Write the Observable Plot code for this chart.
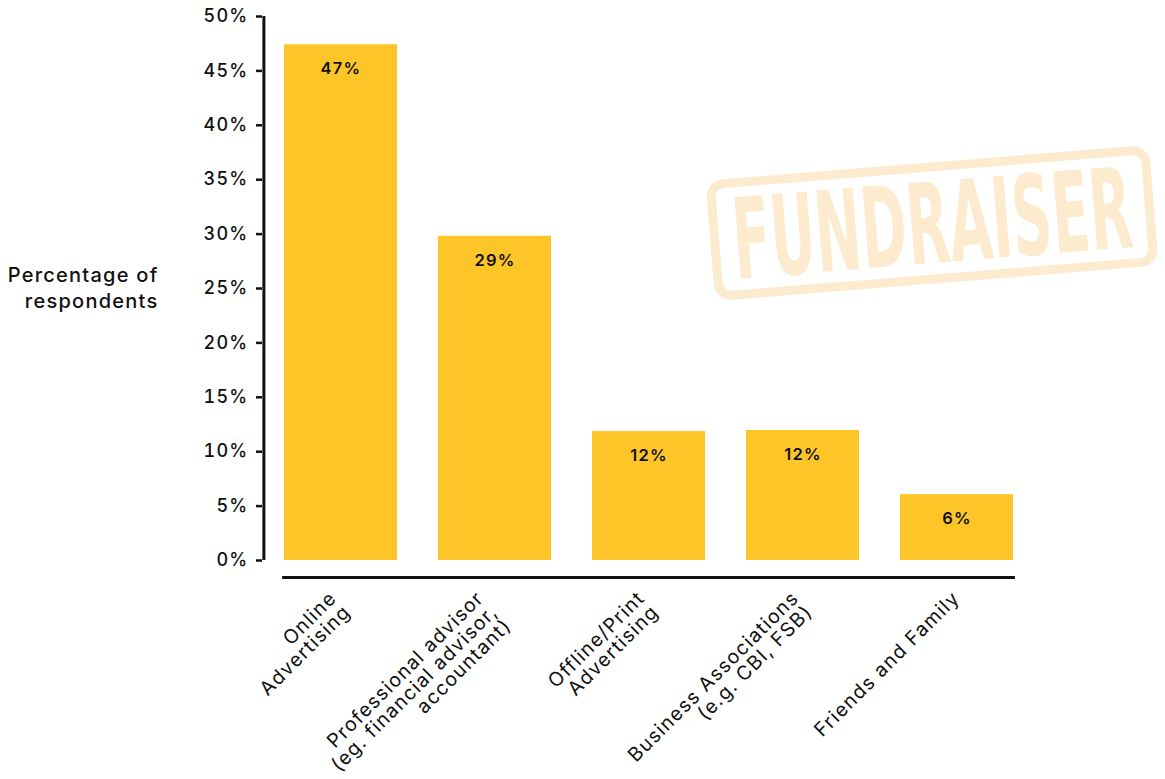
<!DOCTYPE html>
<html>
<head>
<meta charset="utf-8">
<script src="https://cdn.jsdelivr.net/npm/d3@7"></script>
<script src="https://cdn.jsdelivr.net/npm/@observablehq/plot@0.6"></script>
<style>
  html, body { margin: 0; padding: 0; background: #fff; }
  #wrap { position: relative; width: 1165px; height: 779px; overflow: hidden; }
  #chart { position: absolute; left: 0; top: 0; }
  #stamp { position: absolute; left: 0; top: 0; pointer-events: none; }
</style>
</head>
<body>
<div id="wrap">
  <svg id="stamp" width="1165" height="779"></svg>
  <div id="chart"></div>
</div>
<script>
// ---- data ----
const categories = [
  "Online\nAdvertising",
  "Professional advisor\n(eg. financial advisor,\naccountant)",
  "Offline/Print\nAdvertising",
  "Business Associations\n(e.g. CBI, FSB)",
  "Friends and Family"
];
const values = [47.4, 29.8, 11.85, 11.95, 6.05];
const valueLabels = ["47%", "29%", "12%", "12%", "6%"];
const yTicks = [0, 5, 10, 15, 20, 25, 30, 35, 40, 45, 50];
const yLabel = "Percentage of\nrespondents";
const watermark = "FUNDRAISER";

const rows = categories.map((c, i) => ({cat: c, value: values[i], label: valueLabels[i]}));

// ---- layout / style ----
const W = 1165, H = 779;
const marginLeft = 262, marginRight = 130, marginTop = 16, marginBottom = 219;
const paddingInner = 0.263, paddingOuter = 0.13;
const step = (W - marginLeft - marginRight) / (categories.length - paddingInner + 2 * paddingOuter);
const bandwidth = step * (1 - paddingInner);
const outer = step * paddingOuter;
const barColor = "#fdc528";
const font = "Inter, 'Open Sans', sans-serif";

const labelMarks = categories.map(c => {
  const n = c.split("\n").length;
  return Plot.text([c], {
    x: d => d,
    frameAnchor: "bottom",
    text: d => d,
    rotate: -45,
    textAnchor: "end",
    lineAnchor: "top",
    lineHeight: 1.0,
    fontSize: 19.5,
    fill: "#111",
    dx: -6 - 7 * (n - 1),
    dy: 29
  });
});

const chart = Plot.plot({
  width: W,
  height: H,
  marginLeft, marginRight, marginTop, marginBottom,
  style: {fontFamily: font, background: "transparent", overflow: "visible", letterSpacing: "1.25px"},
  x: {domain: categories, paddingInner, paddingOuter, axis: null},
  y: {domain: [0, 50], axis: null},
  marks: [
    Plot.barY(rows, {x: "cat", y: "value", fill: barColor}),
    Plot.text(rows, {x: "cat", y: "value", text: "label", dy: 24, fontSize: 16.5, fontWeight: 600, fill: "#111", lineAnchor: "middle"}),
    Plot.axisY({ticks: yTicks, tickFormat: d => d + "%", tickSize: 6, tickPadding: 8, fontSize: 18, fontWeight: 500, label: null, strokeWidth: 2.5, color: "#111"}),
    Plot.ruleX([categories[0]], {y1: 0, y2: 50, dx: -(bandwidth / 2 + outer), stroke: "#111", strokeWidth: 3}),
    Plot.ruleY([0], {dy: 17, insetLeft: outer, insetRight: outer, stroke: "#111", strokeWidth: 3}),
    Plot.text([yLabel], {frameAnchor: "left", text: d => d, textAnchor: "end", lineAnchor: "middle", dx: -104, dy: -2, fontSize: 20, fontWeight: 500, lineHeight: 1.3, fill: "#111"}),
    ...labelMarks
  ]
});
document.getElementById("chart").appendChild(chart);

// ---- decorative stamp ----
const stamp = d3.select("#stamp");
const g = stamp.append("g").attr("transform", "rotate(-4.6 932 223)");
g.append("rect")
  .attr("x", 932 - 218).attr("y", 223 - 56).attr("width", 436).attr("height", 112)
  .attr("rx", 13).attr("fill", "none").attr("stroke", "#fdebcf").attr("stroke-width", 9);
const tg = g.append("g").attr("transform", "translate(932," + (223 + 40) + ")");
const t = tg.append("text")
  .attr("x", 0).attr("y", 0)
  .attr("text-anchor", "middle")
  .attr("font-family", "'Liberation Sans Narrow', 'DejaVu Sans Condensed', sans-serif")
  .attr("font-weight", "bold")
  .attr("font-size", 112)
  .attr("fill", "#fdebcf")
  .text(watermark);
const natural = t.node().getComputedTextLength() || 400;
t.attr("transform", "scale(" + (400 / natural) + ",1)");
</script>
</body>
</html>
